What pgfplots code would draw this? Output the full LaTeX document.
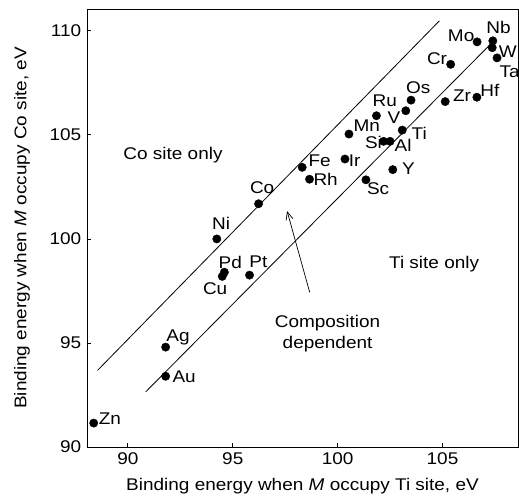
\documentclass[border=0pt]{standalone}
\usepackage{fontspec}
\setmainfont{Liberation Sans}[FakeStretch=1.12]
\usepackage{pgfplots}
\pgfplotsset{compat=1.18}
\usetikzlibrary{arrows.meta,calc}

\begin{document}
\fontsize{17}{20}\selectfont
\begin{tikzpicture}
\begin{axis}[
  scale only axis, width=431bp, height=438bp,
  xmin=88.05, xmax=108.6, ymin=90, ymax=111.05,
  xtick={90,95,...,105}, ytick={90,95,...,110},
  tick pos=left, tick align=inside, major tick length=4bp,
  axis line style={line width=0.9bp},
  every tick/.style={black, line width=0.8bp},
  tick label style={font=\fontsize{17}{20}\selectfont},
  /pgf/number format/assume math mode=true,
  xlabel={Binding energy when \textit{M} occupy Ti site, eV},
  ylabel={Binding energy when \textit{M} occupy Co site, eV},
  xlabel style={at={(axis description cs:0.5,-0.089)}, anchor=center},
  ylabel style={at={(axis description cs:-0.151,0.5)}, anchor=center},
  label style={font=\fontsize{17}{20}\selectfont},
  clip=false,
]
% boundary lines of the composition-dependent band
\addplot[black, line width=0.8bp] coordinates {(88.55,93.68) (104.85,110.48)};
\addplot[black, line width=0.8bp] coordinates {(90.85,92.65) (107.32,109.39)};

% binding energies (Ti site, Co site)
\addplot[only marks, mark=*, mark size=4.2, black] coordinates {
  (88.37,91.15)  % Zn
  (91.80,93.40)  % Au
  (91.80,94.80)  % Ag
  (94.24,100.00) % Ni
  (94.60,98.40)  % Pd
  (94.50,98.20)  % Cu
  (95.80,98.26)  % Pt
  (96.23,101.69) % Co
  (98.31,103.44) % Fe
  (98.66,102.87) % Rh
  (100.35,103.84) % Ir
  (100.54,105.04) % Mn
  (101.35,102.84) % Sc
  (101.85,105.92) % Ru
  (102.19,104.69) % Si
  (102.50,104.69) % Al
  (102.63,103.33) % Y
  (103.08,105.23) % Ti
  (103.25,106.16) % V
  (103.50,106.67) % Os
  (105.13,106.60) % Zr
  (106.64,106.81) % Hf
  (105.39,108.39) % Cr
  (106.65,109.47) % Mo
  (107.40,109.52) % Nb
  (107.37,109.19) % W
  (107.60,108.70) % Ta
};

\begin{scope}[every node/.style={inner sep=0pt}]
\node at (axis cs:89.14,91.34) {Zn};
\node at (axis cs:92.68,93.36) {Au};
\node at (axis cs:92.39,95.28) {Ag};
\node at (axis cs:94.44,100.73) {Ni};
\node at (axis cs:94.88,98.89) {Pd};
\node at (axis cs:94.16,97.61) {Cu};
\node at (axis cs:96.22,98.92) {Pt};
\node at (axis cs:96.40,102.44) {Co};
\node at (axis cs:99.14,103.77) {Fe};
\node at (axis cs:99.43,102.84) {Rh};
\node at (axis cs:100.81,103.77) {Ir};
\node at (axis cs:101.39,105.42) {Mn};
\node at (axis cs:101.93,102.41) {Sc};
\node at (axis cs:102.25,106.66) {Ru};
\node at (axis cs:102.69,105.84) {V};
\node at (axis cs:101.71,104.64) {Si};
\node at (axis cs:103.12,104.52) {Al};
\node at (axis cs:103.38,103.37) {Y};
\node at (axis cs:103.89,105.05) {Ti};
\node at (axis cs:103.84,107.28) {Os};
\node at (axis cs:105.93,106.88) {Zr};
\node at (axis cs:107.26,107.12) {Hf};
\node at (axis cs:104.74,108.64) {Cr};
\node at (axis cs:105.89,109.76) {Mo};
\node at (axis cs:107.67,110.16) {Nb};
\node at (axis cs:108.12,109.01) {W};
\node at (axis cs:108.20,108.05) {Ta};

\node at (axis cs:92.15,104.05) {Co site only};
\node at (axis cs:104.60,98.80) {Ti site only};
\node[align=center, inner sep=0pt] at (axis cs:99.52,95.45) {Composition\\[2pt]dependent};
\end{scope}

\draw[-{Straight Barb[length=8bp,width=7bp]}, line width=0.7bp]
  (axis cs:98.67,97.43) -- (axis cs:97.59,101.34);
\end{axis}
\pgfresetboundingbox
\path ($(current axis.south west)+(-87bp,-51bp)$) rectangle ($(current axis.north east)+(1bp,9bp)$);
\end{tikzpicture}
\end{document}
